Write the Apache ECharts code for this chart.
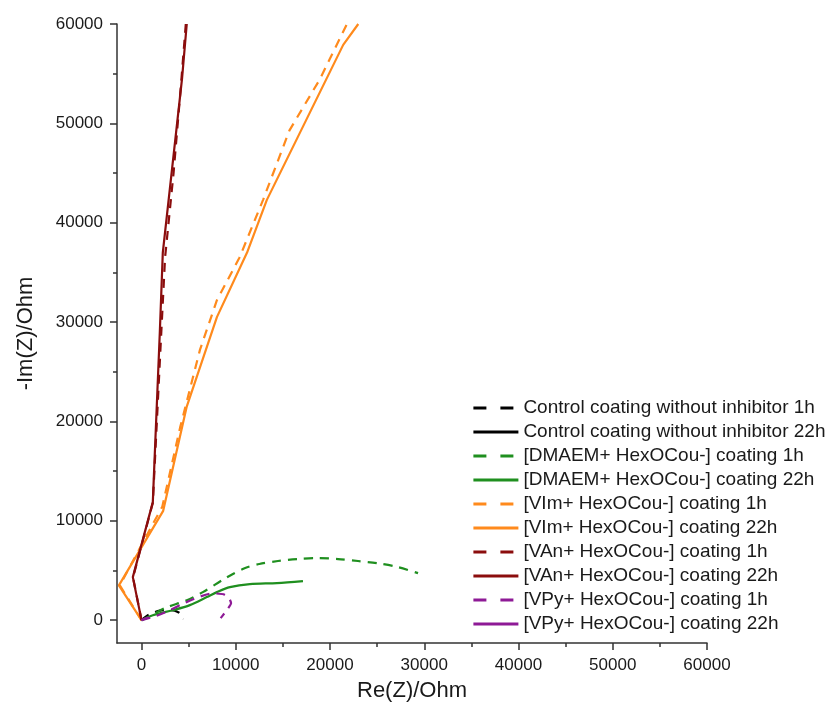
<!DOCTYPE html>
<html>
<head>
<meta charset="utf-8">
<script src="https://cdn.jsdelivr.net/npm/echarts@6/dist/echarts.min.js"></script>
<style>
html,body{margin:0;padding:0;background:#fff;}
#chart{width:835px;height:710px;}
</style>
</head>
<body>
<div id="chart"></div>
<script>
// ---- Data (Re(Z), -Im(Z)) in Ohm ----
const seriesNames = [
  "Control coating without inhibitor 1h",
  "Control coating without inhibitor 22h",
  "[DMAEM+ HexOCou-] coating 1h",
  "[DMAEM+ HexOCou-] coating 22h",
  "[VIm+ HexOCou-] coating 1h",
  "[VIm+ HexOCou-] coating 22h",
  "[VAn+ HexOCou-] coating 1h",
  "[VAn+ HexOCou-] coating 22h",
  "[VPy+ HexOCou-] coating 1h",
  "[VPy+ HexOCou-] coating 22h"
];
const control1h = [[0,0],[600,450],[1400,800],[2300,1000],[3200,1000],[3900,800],[4300,450],[4400,100]];
const control22h = [[0,0],[200,150],[450,250],[700,300]];
const dmaem1h = [[0,0],[680,300],[2470,1210],[4810,2010],[6510,2820],[8570,4030],[9700,4650],[11000,5250],[12500,5650],[14480,5950],[16600,6150],[18720,6250],[20850,6150],[22970,5950],[25090,5720],[27220,5340],[29340,4730]];
const dmaem22h = [[0,0],[1200,500],[3320,1000],[5130,1510],[6930,2320],[8000,2820],[9380,3320],[11500,3630],[14370,3730],[17130,3930]];
const vim1h = [[0,0],[-2300,3500],[1100,9500],[2200,11400],[4100,19400],[6200,27200],[8000,32200],[10400,36500],[12900,42300],[15700,49300],[18900,54400],[21800,60000]];
const vim22h = [[0,0],[-2400,3500],[2300,11000],[4800,21500],[8000,30500],[11200,37000],[13300,42300],[21400,57900],[23000,60000]];
const van1h = [[0,0],[-900,4300],[1200,11800],[2100,29000],[2500,36500],[3400,45000],[4200,54000],[4700,60000]];
const van22h = [[0,0],[-920,4330],[1200,11880],[1940,28900],[2260,37000],[4300,54500],[4800,60000]];
const vpy1h = [[0,0],[1500,400],[3000,1000],[4500,1700],[6000,2300],[7500,2700],[8700,2600],[9300,2200],[9500,1700],[9200,1200],[8800,700],[8400,200]];
const vpy22h = [[0,0],[250,120],[500,200],[800,250]];

const xTicks = [0,10000,20000,30000,40000,50000,60000];
const xMinorTicks = [5000,15000,25000,35000,45000,55000];
const yTicks = [0,10000,20000,30000,40000,50000,60000];
const yMinorTicks = [5000,15000,25000,35000,45000,55000];

const seriesData = [control1h, control22h, dmaem1h, dmaem22h, vim1h, vim22h, van1h, van22h, vpy1h, vpy22h];
const colors = ["#000000","#000000","#1f8f1f","#1f8f1f","#ff8a1c","#ff8a1c","#8b0d0d","#8b0d0d","#8e1a96","#8e1a96"];
const dashed = [true,false,true,false,true,false,true,false,true,false];
const smoothing = [0.3,0,0.3,0.3,0,0,0,0,0.2,0];

const FONT = "'Liberation Sans', Arial, sans-serif";
const axisCol = "#333333";

const chart = echarts.init(document.getElementById('chart'), null, {renderer:'canvas'});

const series = seriesData.map((d,i)=>({
  name: seriesNames[i],
  type: 'line',
  data: d,
  xAxisIndex: 0,
  yAxisIndex: 0,
  symbol: 'none',
  showSymbol: false,
  smooth: smoothing[i] || false,
  clip: true,
  z: 2 + i,
  lineStyle: {color: colors[i], width: 2.2, type: dashed[i] ? [9,7] : 'solid', cap: 'butt'},
  itemStyle: {color: colors[i]},
  emphasis: {disabled: true}
}));

const plain = v => String(v);

const option = {
  animation: false,
  grid: {left: 117, right: 128, top: 24, bottom: 67, containLabel: false},
  xAxis: [{
    type: 'value', min: -2600, max: 60000,
    name: 'Re(Z)/Ohm', nameLocation: 'middle', nameGap: 37,
    nameTextStyle: {fontFamily: FONT, fontSize: 22, color: '#1a1a1a'},
    axisLine: {show: true, onZero: false, lineStyle: {color: axisCol, width: 1.5}},
    axisTick: {show: true, inside: false, length: 7, customValues: xTicks, lineStyle: {color: axisCol, width: 1.5}},
    axisLabel: {show: true, customValues: xTicks, formatter: plain, margin: 14, fontFamily: FONT, fontSize: 17, color: '#1a1a1a'},
    splitLine: {show: false}
  },{
    type: 'value', min: -2600, max: 60000, position: 'bottom',
    axisLine: {show: false, onZero: false},
    axisTick: {show: true, inside: false, length: 4, customValues: xMinorTicks, lineStyle: {color: axisCol, width: 1.5}},
    axisLabel: {show: false},
    splitLine: {show: false}
  }],
  yAxis: [{
    type: 'value', min: -2300, max: 60000,
    name: '-Im(Z)/Ohm', nameLocation: 'middle', nameGap: 80, nameRotate: 90,
    nameTextStyle: {fontFamily: FONT, fontSize: 22, color: '#1a1a1a'},
    axisLine: {show: true, onZero: false, lineStyle: {color: axisCol, width: 1.5}},
    axisTick: {show: true, inside: false, length: 7, customValues: yTicks, lineStyle: {color: axisCol, width: 1.5}},
    axisLabel: {show: true, customValues: yTicks, formatter: plain, margin: 14, fontFamily: FONT, fontSize: 17, color: '#1a1a1a'},
    splitLine: {show: false}
  },{
    type: 'value', min: -2300, max: 60000, position: 'left',
    axisLine: {show: false, onZero: false},
    axisTick: {show: true, inside: false, length: 4, customValues: yMinorTicks, lineStyle: {color: axisCol, width: 1.5}},
    axisLabel: {show: false},
    splitLine: {show: false}
  }],
  legend: {
    orient: 'vertical', left: 472, top: 397, padding: 0,
    itemWidth: 45, itemHeight: 14, itemGap: 2,
    selectedMode: false,
    itemStyle: {opacity: 0},
    textStyle: {fontFamily: FONT, fontSize: 19, color: '#1a1a1a', lineHeight: 22},
    data: seriesNames.map((n,i)=>({
      name: n,
      itemStyle: {opacity: 0},
      lineStyle: {color: colors[i], width: 2.8, type: dashed[i] ? [13,14] : 'solid'}
    }))
  },
  series: series
};
chart.setOption(option);
</script>
</body>
</html>
